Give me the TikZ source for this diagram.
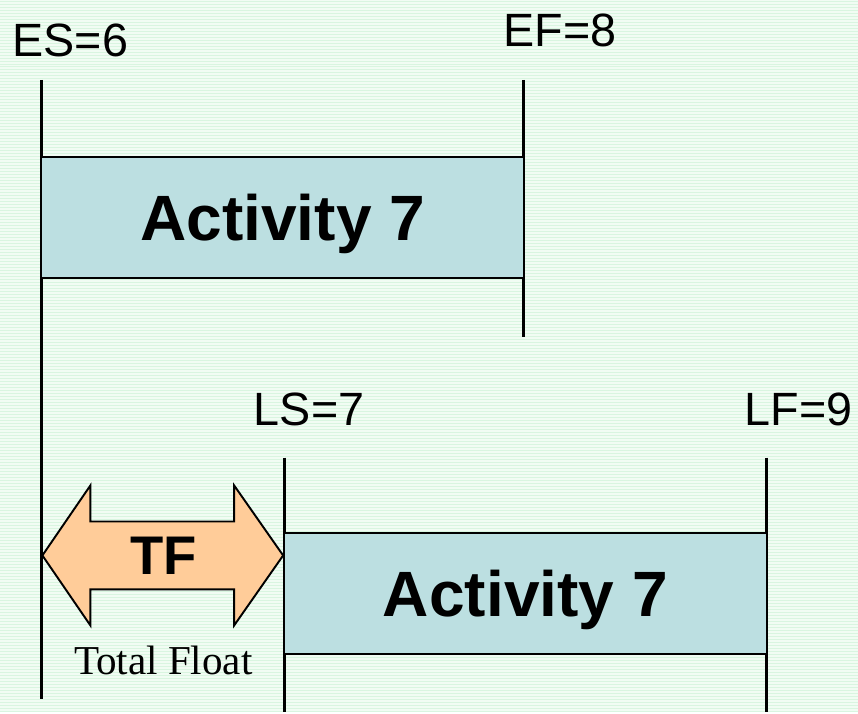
\documentclass[tikz,border=0pt]{standalone}
\usepackage{fontspec}
\setmainfont{Liberation Serif}
\setsansfont{Liberation Sans}
\usetikzlibrary{positioning}
\definecolor{bgmint}{HTML}{F1FCF3}
\definecolor{bgstripe}{HTML}{D9F5E0}
\definecolor{barfill}{HTML}{BCDFE1}
\definecolor{floatfill}{HTML}{FFCC99}

\begin{document}
\begin{tikzpicture}[x=0.02cm, y=-0.02cm,
  font=\sffamily,
  bar/.style={draw=black, fill=barfill, line width=1.1pt,
    minimum width=9.66cm, minimum height=2.42cm, inner sep=0pt, text depth=0pt,
    font=\fontsize{36.5}{40}\selectfont\sffamily\bfseries},
  tick/.style={inner sep=0pt, font=\fontsize{26.6}{30}\selectfont\sffamily},
  timeline/.style={line width=1.7pt}
]
% striped backdrop
\fill[bgmint] (0,0) rectangle (858,713);
\foreach \y in {1,4,...,712}
  \draw[bgstripe, line width=0.5pt] (0,\y) -- (858,\y);

% early schedule
\node[tick] (es) at (70,40) {ES=6};
\node[tick] (ef) at (560,30) {EF=8};
\coordinate (es top) at (41,80);
\coordinate (es foot) at (41,700);
\coordinate (ef top) at (524,80);
\coordinate (ef foot) at (524,337);
\draw[timeline] (es top) -- (es foot);
\draw[timeline] (ef top) -- (ef foot);
\node[bar] (early) at (282.5,217.5) {Activity 7};

% late schedule
\node[tick] (ls) at (309,410) {LS=7};
\node[tick] (lf) at (799,410) {LF=9};
\coordinate (ls top) at (284,458);
\coordinate (ls foot) at (284,713);
\coordinate (lf top) at (767,458);
\coordinate (lf foot) at (767,713);
\draw[timeline] (ls top) -- (ls foot);
\draw[timeline] (lf top) -- (lf foot);
\node[bar] (late) at (525.5,594) {Activity 7};

% total float arrow
\draw[fill=floatfill, line width=1.1pt, line join=miter]
  (42,556) -- (90,486) -- (90,522) -- (234,522) -- (234,486) -- (283,556)
  -- (234,626) -- (234,590) -- (90,590) -- (90,626) -- cycle;
\node[inner sep=0pt, font=\fontsize{31}{34}\selectfont\sffamily\bfseries] (tf) at (163,556) {TF};
\node[inner sep=0pt, font=\fontsize{23.4}{26}\selectfont\rmfamily] (total) at (163,661) {Total Float};
\end{tikzpicture}
\end{document}
